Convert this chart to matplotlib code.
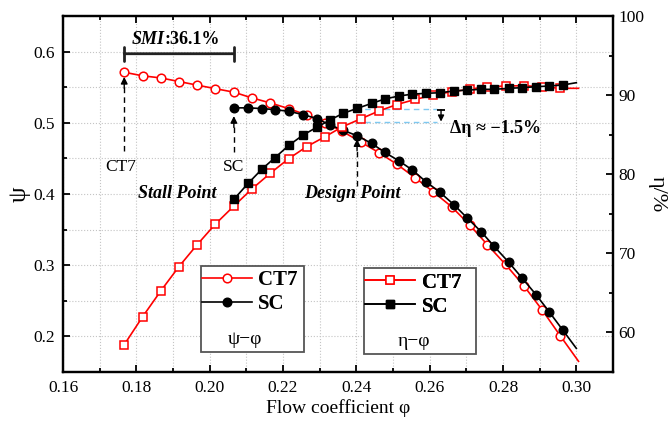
import matplotlib
matplotlib.use('Agg')
import matplotlib.pyplot as plt
from matplotlib.lines import Line2D
from matplotlib.patches import Rectangle
from matplotlib.ticker import MultipleLocator

plt.rcParams['font.family'] = ['Liberation Serif', 'DejaVu Serif']

# flow coefficient of each operating point (last value = line end, no marker)
phi_ct7 = [0.1767, 0.1817, 0.1867, 0.1916, 0.1965, 0.2015, 0.2066, 0.2115, 0.2165, 0.2215, 0.2265, 0.2315, 0.2362,
           0.2412, 0.2462, 0.2510, 0.2560, 0.2610, 0.2660, 0.2710, 0.2757, 0.2807, 0.2857, 0.2907, 0.2956, 0.3006]
psi_ct7 = [0.571, 0.566, 0.563, 0.558, 0.553, 0.548, 0.543, 0.535, 0.528, 0.520, 0.511, 0.500, 0.488,
           0.473, 0.458, 0.442, 0.423, 0.403, 0.382, 0.356, 0.329, 0.301, 0.271, 0.237, 0.201, 0.165]
eta_ct7 = [58.45, 61.98, 65.27, 68.31, 71.05, 73.67, 75.98, 78.13, 80.11, 81.95, 83.5, 84.75, 86.0,
           87.0, 88.0, 88.8, 89.45, 90.0, 90.43, 90.75, 91.06, 91.15, 91.19, 91.06, 90.86, 90.86]

phi_sc = [0.2066, 0.2105, 0.2142, 0.2178, 0.2217, 0.2255, 0.2292, 0.2328, 0.2364, 0.2403, 0.2442, 0.2478, 0.2516,
          0.2553, 0.2590, 0.2628, 0.2666, 0.2703, 0.2740, 0.2776, 0.2815, 0.2852, 0.2890, 0.2926, 0.2963, 0.3000]
psi_sc = [0.521, 0.521, 0.520, 0.5185, 0.516, 0.5115, 0.506, 0.497, 0.4895, 0.4816, 0.471, 0.4583, 0.4466,
          0.4336, 0.4172, 0.4024, 0.385, 0.366, 0.3473, 0.3263, 0.3045, 0.282, 0.2587, 0.2345, 0.2089, 0.1832]
eta_sc = [76.83, 78.85, 80.62, 82.09, 83.69, 84.96, 85.93, 86.85, 87.7, 88.33, 88.96, 89.51, 89.89,
          90.12, 90.23, 90.3, 90.52, 90.64, 90.73, 90.73, 90.86, 90.94, 91.06, 91.15, 91.28, 91.57]

# annotation anchors
stall_phi = [0.1767, 0.2066]
design_phi = 0.2402
eta_design = [88.25, 86.55]

RED = '#ff0000'
fig = plt.figure(figsize=(6.68, 4.25), dpi=100)
ax = fig.add_axes([63 / 668, 53 / 425, 550 / 668, 356 / 425])
ax2 = ax.twinx()

mk = slice(0, -1)
ax.plot(phi_ct7, psi_ct7, color=RED, lw=1.2, marker='o', ms=6.2, mfc='white', mec=RED, mew=1.1, markevery=mk, zorder=3)
ax.plot(phi_sc, psi_sc, color='k', lw=1.2, marker='o', ms=6.2, mfc='k', mec='k', markevery=mk, zorder=4)
ax2.plot(phi_ct7, eta_ct7, color=RED, lw=1.2, marker='s', ms=5.6, mfc='white', mec=RED, mew=1.1, markevery=mk, zorder=3)
ax2.plot(phi_sc, eta_sc, color='k', lw=1.2, marker='s', ms=5.6, mfc='k', mec='k', markevery=mk, zorder=4)

ax.set_xlim(0.16, 0.31)
ax.set_ylim(0.15, 0.65)
ax2.set_ylim(55, 100)

ax.xaxis.set_major_locator(MultipleLocator(0.02))
ax.xaxis.set_minor_locator(MultipleLocator(0.01))
ax.yaxis.set_major_locator(MultipleLocator(0.1))
ax.yaxis.set_minor_locator(MultipleLocator(0.05))
ax2.yaxis.set_major_locator(MultipleLocator(10))
ax2.yaxis.set_minor_locator(MultipleLocator(5))
ax.xaxis.set_major_formatter(lambda v, p: f'{v:.2f}')
ax.yaxis.set_major_formatter(lambda v, p: f'{v:.1f}')

ax.tick_params(which='both', direction='in', top=True, right=False, width=1.3, labelsize=12.5, pad=6)
ax.tick_params(which='major', length=5)
ax.tick_params(which='minor', length=3)
ax2.tick_params(which='both', direction='in', width=1.3, labelsize=12.5, pad=4)
ax2.tick_params(which='major', length=5)
ax2.tick_params(which='minor', length=3)
for a in (ax, ax2):
    for s in a.spines.values():
        s.set_linewidth(1.6)

ax.grid(True, which='both', linestyle=':', color='#c4c4c4', lw=0.8)
ax.set_axisbelow(True)

ax.set_xlabel('Flow coefficient φ', fontsize=14, labelpad=2)
ax.set_ylabel('ψ', fontsize=18, labelpad=2)
ax2.set_ylabel('η/%', fontsize=16, rotation=270, labelpad=16)

# SMI bracket
ax.annotate('', xy=(stall_phi[0], 0.597), xytext=(stall_phi[1], 0.597),
            arrowprops=dict(arrowstyle='|-|', lw=2, color='#222222', mutation_scale=5, shrinkA=0, shrinkB=0))
ax.text(0.1878, 0.6168, 'SMI', fontsize=13, fontweight='bold', fontstyle='italic', ha='right', va='center')
ax.text(0.1878, 0.6168, ':36.1%', fontsize=13, fontweight='bold', ha='left', va='center')


def dashed_arrow(x, y0, y1):
    ax.plot([x, x], [y0, y1 - 0.012], ls=(0, (4, 3)), color='k', lw=1)
    ax.annotate('', xy=(x, y1), xytext=(x, y1 - 0.016),
                arrowprops=dict(arrowstyle='-|>', color='k', lw=1, mutation_scale=10, shrinkA=0, shrinkB=0))


dashed_arrow(stall_phi[0], 0.460, 0.5645)
dashed_arrow(stall_phi[1], 0.459, 0.5095)
dashed_arrow(design_phi, 0.411, 0.477)

ax.text(0.1757, 0.4378, 'CT7', fontsize=12.5, ha='center', va='center')
ax.text(0.2064, 0.4378, 'SC', fontsize=12.5, ha='center', va='center')
ax.text(0.1911, 0.400, 'Stall Point', fontsize=13, fontweight='bold', fontstyle='italic', ha='center', va='center')
ax.text(0.2390, 0.4014, 'Design Point', fontsize=13, fontweight='bold', fontstyle='italic', ha='center', va='center')

# efficiency drop marker
for e in eta_design:
    ax2.plot([0.2397, 0.2619], [e, e], ls=(0, (4, 3)), color='#7ec8f0', lw=1, zorder=2)
ax2.plot([0.2631], [eta_design[0] - 0.1], marker='_', ms=6, mew=1.3, color='k')
ax2.annotate('', xy=(0.2631, eta_design[1] + 0.1), xytext=(0.2631, eta_design[0] - 0.1),
             arrowprops=dict(arrowstyle='-|>', color='k', lw=1, mutation_scale=9, shrinkA=0, shrinkB=0))
ax2.text(0.2656, 85.84, 'Δη ≈ −1.5%', fontsize=13, fontweight='bold', ha='left', va='center')


# legends with hand-drawn frames, caption at the bottom
def legend_box(x0, y0, x1, y1, handles, caption, cx, cy):
    ax2.add_patch(Rectangle((x0, y0), x1 - x0, y1 - y0, transform=ax2.transAxes, facecolor='white',
                            edgecolor='#555555', lw=1.3, zorder=5))
    leg = ax2.legend(handles, ['CT7', 'SC'], loc='upper left', bbox_to_anchor=(x0 + 0.002, y1 - 0.012),
                     frameon=False, borderpad=0, borderaxespad=0, handlelength=2.4, handletextpad=0.3,
                     labelspacing=0.2, prop={'size': 15, 'weight': 'bold'})
    leg.set_zorder(6)
    ax2.add_artist(leg)
    ax2.text(cx, cy, caption, transform=ax2.transAxes, fontsize=14, ha='center', va='center', zorder=6)


h_psi = [Line2D([], [], color=RED, lw=1.2, marker='o', ms=6.2, mfc='white', mec=RED, mew=1.1),
         Line2D([], [], color='k', lw=1.2, marker='o', ms=6.2, mfc='k', mec='k')]
h_eta = [Line2D([], [], color=RED, lw=1.2, marker='s', ms=5.6, mfc='white', mec=RED, mew=1.1),
         Line2D([], [], color='k', lw=1.2, marker='s', ms=5.6, mfc='k', mec='k')]
legend_box(0.2509, 0.0553, 0.4387, 0.2978, h_psi, 'ψ−φ', (245 - 63) / 550, (372 - 340) / 356)
legend_box(0.5478, 0.0497, 0.7504, 0.2913, h_eta, 'η−φ', (414 - 63) / 550, (372 - 341.5) / 356)

fig.savefig('out.png', dpi=100)
